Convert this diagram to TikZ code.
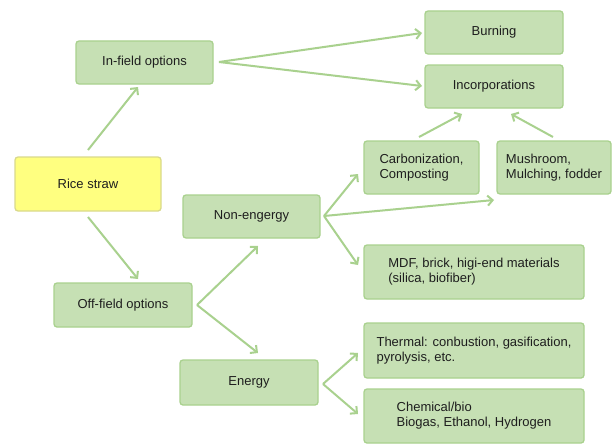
\documentclass[tikz,border=0pt]{standalone}
\usepackage{fontspec}
\setmainfont{Liberation Sans}
\usetikzlibrary{arrows.meta}
\definecolor{boxfill}{HTML}{C6E0B4}
\definecolor{boxline}{HTML}{A9D18E}
\definecolor{yfill}{HTML}{FFFF80}
\definecolor{yline}{HTML}{D9D98C}
\definecolor{txt}{HTML}{1E1E1E}
\tikzset{
  gbox/.style={draw=boxline, fill=boxfill, line width=1.3pt, rounded corners=3pt,
    font=\fontsize{13}{15}\selectfont, text=txt, align=left, inner sep=0pt},
  ybox/.style={gbox, draw=yline, fill=yfill},
  conn/.style={draw=boxline, line width=2pt, -{Straight Barb[length=5pt,width=10pt,line width=2pt]}}
}
\begin{document}
\begin{tikzpicture}[x=1pt,y=-1pt]
\useasboundingbox (0,0) rectangle (612,444);
\fill[white] (0,0) rectangle (612,444);
% boxes
\node[gbox, minimum width=137pt, minimum height=43pt] (infield) at (144.5,62.5) {In-field options};
\node[ybox, minimum width=146pt, minimum height=54pt] (rice) at (88,184) {Rice straw};
\node[gbox, minimum width=138pt, minimum height=44pt] (offfield) at (123,305) {Off-field options};
\node[gbox, minimum width=137pt, minimum height=43pt] (nonen) at (251.5,216.5) {Non-engergy};
\node[gbox, minimum width=138pt, minimum height=45pt] (energy) at (249,382.5) {Energy};
\node[gbox, minimum width=138pt, minimum height=43pt] (burning) at (494,32.5) {Burning};
\node[gbox, minimum width=138pt, minimum height=43pt] (incorp) at (494,86.5) {Incorporations};
\node[gbox, minimum width=115pt, minimum height=53pt] (carbon) at (421.5,167.5) {Carbonization,\\Composting};
\node[gbox, minimum width=114pt, minimum height=53pt] (mush) at (554,167.5) {Mushroom,\\Mulching, fodder};
\node[gbox, minimum width=220pt, minimum height=54pt] (mdf) at (474,272) {MDF, brick, higi-end materials\\(silica, biofiber)};
\node[gbox, minimum width=220pt, minimum height=55pt] (thermal) at (474,350.5) {Thermal: conbustion, gasification,\\pyrolysis, etc.};
\node[gbox, minimum width=220pt, minimum height=54pt] (chem) at (474,416) {Chemical/bio\\Biogas, Ethanol, Hydrogen};
% connector anchor points
\coordinate (riceT) at (88,150);
\coordinate (riceB) at (88,217);
\coordinate (infieldB) at (138,87);
\coordinate (offfieldT) at (138,279);
\coordinate (infieldR) at (219,62);
\coordinate (burnL) at (422,33);
\coordinate (incL) at (422,86);
\coordinate (offR) at (197,305);
\coordinate (nonB) at (258,246);
\coordinate (enT) at (258,353);
\coordinate (nonR) at (324,216);
\coordinate (carbL) at (358,174);
\coordinate (mushBL) at (494,200);
\coordinate (mdfL) at (358,265);
\coordinate (enR) at (323,384);
\coordinate (thermL) at (358,353);
\coordinate (chemL) at (358,414);
\coordinate (carbT) at (419,137);
\coordinate (mushT) at (553,137);
\coordinate (incB1) at (462,114);
\coordinate (incB2) at (511,114);
% connectors
\draw[conn] (riceT) -- (infieldB);
\draw[conn] (riceB) -- (offfieldT);
\draw[conn] (infieldR) -- (burnL);
\draw[conn] (infieldR) -- (incL);
\draw[conn] (offR) -- (nonB);
\draw[conn] (offR) -- (enT);
\draw[conn] (nonR) -- (carbL);
\draw[conn] (nonR) -- (mushBL);
\draw[conn] (nonR) -- (mdfL);
\draw[conn] (enR) -- (thermL);
\draw[conn] (enR) -- (chemL);
\draw[conn] (carbT) -- (incB1);
\draw[conn] (mushT) -- (incB2);
\end{tikzpicture}
\end{document}
